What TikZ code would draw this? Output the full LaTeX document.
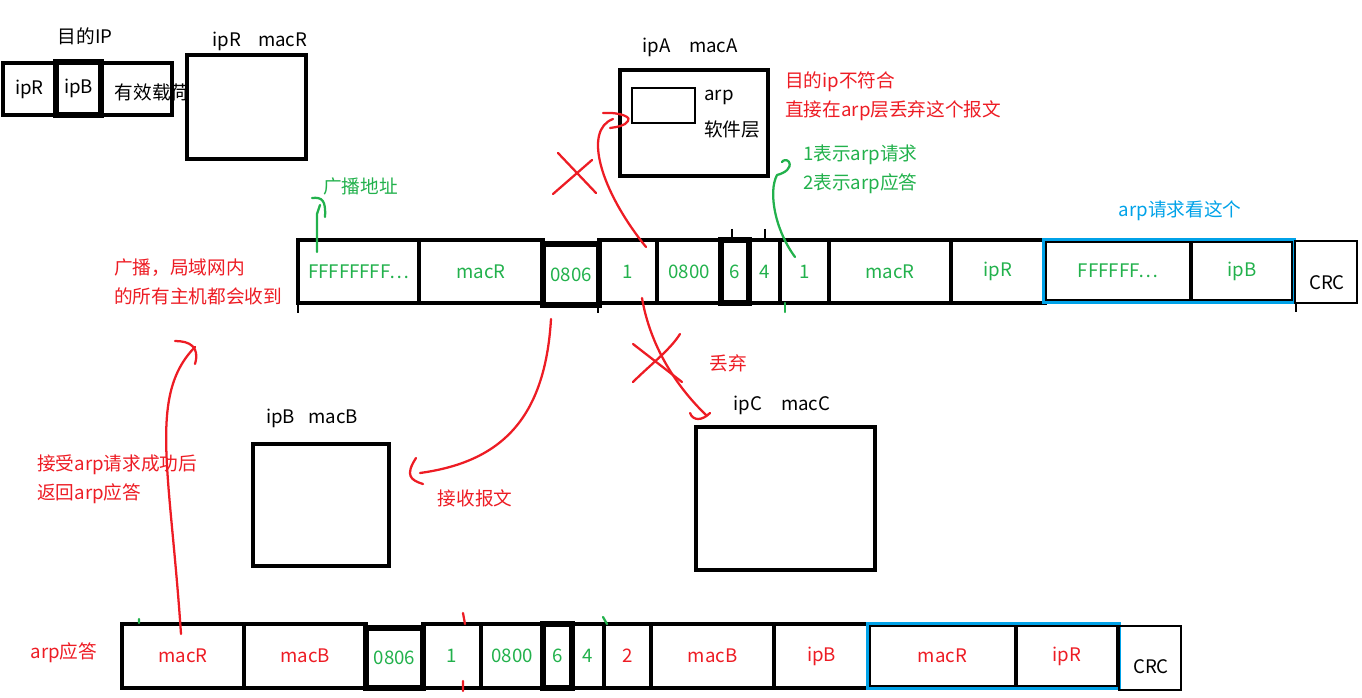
\documentclass[tikz,border=0pt]{standalone}
\usepackage{fontspec}
\setmainfont{Noto Sans CJK SC}
\usetikzlibrary{fit}
\definecolor{pred}{RGB}{237,28,36}
\definecolor{pgreen}{RGB}{34,177,76}
\definecolor{pblue}{RGB}{0,162,232}
\tikzset{
  cell/.style={draw, line width=2.6pt, inner sep=0pt, minimum height=63*0.75pt},
  thickcell/.style={cell, line width=3.8pt},
  host/.style={draw, line width=2.8pt, inner sep=0pt},
  wd/.style={minimum width=#1*0.75pt},
  ht/.style={minimum height=#1*0.75pt},
  grn/.style={text=pgreen},
  rd/.style={text=pred},
  note/.style={anchor=west, inner sep=0pt, align=left},
  redpen/.style={pred, line width=1.7pt, line cap=round, line join=round},
  greenpen/.style={pgreen, line width=1.7pt, line cap=round, line join=round},
  reqbox/.style={draw=pblue, line width=2.4pt, inner sep=0pt},
}

\begin{document}
\begin{tikzpicture}[x=0.75pt, y=-0.75pt, font=\fontsize{14}{21.75}\selectfont]
  \useasboundingbox (0,0) rectangle (1362,698);

  % IP packet and router R
  \node (dstip) at (85,36) {目的IP};
  \node[cell, wd=53, ht=52] (p1) at (29.5,89) {ipR};
  \node[cell, wd=71, ht=52] (p3) at (136.5,89) {};
  \node[thickcell, wd=45, ht=53] (p2) at (78.5,88.5) {ipB};
  \node (load) at (152,92) {有效载荷};
  \node[host, wd=119, ht=104] (hostR) at (246.5,107) {};
  \node (hostRl) at (260,41) {ipR\hspace{0.9em}macR};

  % host A with its arp layer
  \node[host, wd=148, ht=106] (hostA) at (694,123) {};
  \node[draw, line width=2.2pt, wd=63, ht=35, inner sep=0pt] (arpA) at (663.5,105.5) {};
  \node[note] (arpl) at (704,97) {arp};
  \node[note] (swl) at (704,129) {软件层};
  \node (hostAl) at (690,47) {ipA\hspace{1em}macA};
  \node[note, rd] (dropA) at (785,96.5) {目的ip不符合\\直接在arp层丢弃这个报文};
  \node[note, grn] (opnote) at (803,169.5) {1表示arp请求\\2表示arp应答};
  \node[note, grn] (bcast) at (323,186) {广播地址};
  \node[text=pblue] (lookreq) at (1180,211) {arp请求看这个};
  \node[note, rd] (bcnote) at (114,281.5) {广播，局域网内\\的所有主机都会收到};

  % arp request frame
  \node[cell, wd=121, grn] (f1) at (358.5,271.5) {FFFFFFFF…};
  \node[cell, wd=124, grn] (f2) at (481,271.5) {macR};
  \node[cell, wd=58, grn] (f4) at (628,271.5) {1};
  \node[thickcell, wd=56, ht=61, grn] (f3) at (571,274.5) {0806};
  \node[cell, wd=64, grn] (f5) at (689,271.5) {0800};
  \node[cell, wd=31, grn] (f7) at (764.5,271.5) {4};
  \node[thickcell, wd=28, grn] (f6) at (735,271.5) {6};
  \node[cell, wd=49, grn] (f8) at (804.5,271.5) {1};
  \node[cell, wd=122, grn] (f9) at (890,271.5) {macR};
  \node[cell, wd=94, grn] (f10) at (998,271.5) {ipR};
  \node[cell, wd=146, ht=60, grn] (f11) at (1118,271) {FFFFFF…};
  \node[cell, wd=102, ht=60, grn] (f12) at (1242,271) {ipB};
  \node[reqbox, fit=(f11)(f12)] (freq) {};
  \node[cell, line width=2pt, wd=62, ht=62] (fcrc) at (1326,272) {};
  \node (fcrcl) at (1327,283) {CRC};
  \draw[line width=2.2pt] (298,303) -- (298,313) (598,303) -- (598,313)
    (732,229) -- (732,238) (765,229) -- (765,240) (1296,302) -- (1296,312);

  % hosts B and C
  \node[host, wd=136, ht=122] (hostB) at (321,505) {};
  \node (hostBl) at (312,418) {ipB\hspace{0.7em}macB};
  \node[host, wd=179, ht=143] (hostC) at (785.5,498.5) {};
  \node (hostCl) at (782,405) {ipC\hspace{1em}macC};
  \node[rd] (recv) at (475,498) {接收报文};
  \node[rd] (drop) at (728,363) {丢弃};
  \node[note, rd] (reply) at (37,479) {接受arp请求成功后\\返回arp应答};
  \node[rd] (replyl) at (64,653) {arp应答};

  % arp reply frame
  \node[cell, wd=122, ht=64, rd] (b1) at (183,656) {macR};
  \node[cell, wd=122, ht=64, rd] (b2) at (305,656) {macB};
  \node[cell, wd=58, ht=64, grn] (b4) at (452,656) {1};
  \node[thickcell, wd=57, ht=60, grn] (b3) at (394.5,658) {0806};
  \node[cell, wd=62, ht=64, grn] (b5) at (512,656) {0800};
  \node[cell, wd=32, ht=64, grn] (b7) at (588,656) {4};
  \node[thickcell, wd=29, ht=64, grn] (b6) at (557.5,656) {6};
  \node[cell, wd=47, ht=64, rd] (b8) at (627.5,656) {2};
  \node[cell, wd=123, ht=64, rd] (b9) at (712.5,656) {macB};
  \node[cell, wd=95, ht=64, rd] (b10) at (821.5,656) {ipB};
  \node[cell, wd=147, ht=62, rd] (b11) at (942.5,656) {macR};
  \node[cell, wd=102, ht=62, rd] (b12) at (1067,656) {ipR};
  \node[reqbox, fit=(b11)(b12)] (breq) {};
  \node[cell, line width=2pt, wd=62, ht=64] (bcrc) at (1150,658) {};
  \node (bcrcl) at (1151,667) {CRC};
  \draw[redpen] (463,613) -- (465,624) (463,681) -- (463,691);
  \draw[greenpen] (603,617) -- (607,624) (139,619) -- (139,623);

  % broadcast marks
  \coordinate (g1) at (317,252);
  \coordinate (g2) at (320,205);
  \draw[greenpen] (g1) -- (317,214) -- (g2);
  \draw[greenpen] (312,198) .. controls (322,197) and (326,200) .. (325,217);
  \coordinate (h1) at (795,257);
  \coordinate (h2) at (777,175);
  \draw[greenpen] (h1) .. controls (775,230) and (768,192) .. (h2)
    .. controls (785,173) and (792,168) .. (789,162) .. controls (787,159) and (783,160) .. (782,162);
  \draw[greenpen] (785,303) -- (785,312);

  % A drops the request
  \coordinate (upA) at (646,247);
  \coordinate (inA) at (613,119);
  \draw[redpen] (upA) .. controls (600,190) and (583,130) .. (inA);
  \draw[redpen] (603,113) .. controls (622,112) and (632,118) .. (628,121) .. controls (625,126) and (617,127) .. (610,128);
  \draw[redpen] (558,153) -- (596,193) (553,194) -- (592,160);

  % B accepts the request
  \coordinate (d1) at (551,319);
  \coordinate (d2) at (420,473);
  \draw[redpen] (d1) .. controls (545,420) and (500,462) .. (d2);
  \draw[redpen] (416,458) .. controls (405,475) and (410,480) .. (423,484);

  % C drops the request
  \coordinate (c1) at (642,298);
  \coordinate (c2) at (706,415);
  \draw[redpen] (c1) .. controls (650,345) and (675,385) .. (c2);
  \draw[redpen] (690,413) .. controls (693,421) and (702,421) .. (710,413);
  \draw[redpen] (633,344) -- (682,382) (633,382) .. controls (650,365) and (670,350) .. (680,334);

  % B answers
  \coordinate (r1) at (181,634);
  \coordinate (r2) at (195,347);
  \draw[redpen] (r1) .. controls (170,470) and (148,395) .. (r2);
  \draw[redpen] (175,341) .. controls (190,341) and (200,347) .. (195,364);
\end{tikzpicture}
\end{document}
